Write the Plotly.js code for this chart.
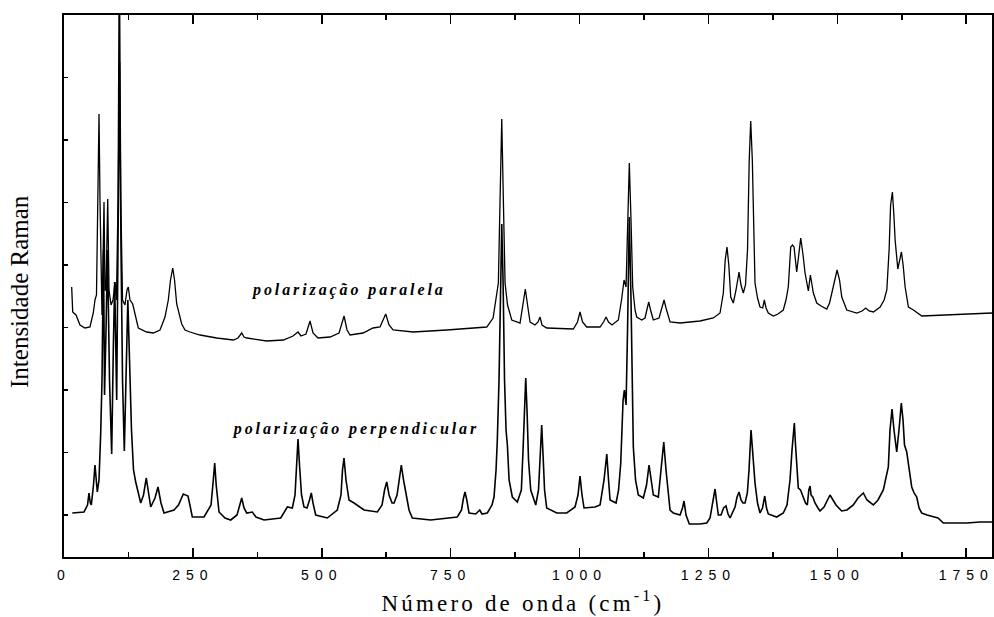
<!DOCTYPE html>
<html><head><meta charset="utf-8">
<script src="https://cdn.plot.ly/plotly-3.0.1.min.js"></script>
<style>
html,body{margin:0;padding:0;background:#fff;}
#chart{width:994px;height:617px;}
.xtick text{letter-spacing:6px;}
g.annotation[data-index="0"] text{letter-spacing:2.9px;}
g.annotation[data-index="1"] text{letter-spacing:2.9px;}
g.annotation[data-index="2"] text{letter-spacing:3.2px;}
</style></head><body><div id="chart"></div>
<script>
// Parallel polarization spectrum (upper trace), wavenumber (cm-1) and intensity (arb. units)
const paralelaWn = [
14.9,16.9,23.3,31,40.7,50.4,56.8,60.1,63,66,
67.9,69.8,72.2,73.7,75.7,77.6,79.5,81.5,84.8,87.3,
91.2,95.1,98.9,101.8,104.8,107.3,110.2,113.5,118.3,122.2,
124.7,128,133.3,137.7,144.1,160.4,173.2,186.2,195.9,202.3,
206.6,210.9,214.4,218.6,222.1,228.3,234.7,244.4,263.8,296.2,
328.4,337.5,344.7,349.2,354.4,393.2,425.4,444.2,453.9,459.7,
469.4,477.2,483,492.7,516,533.5,543.2,549,554.8,580,
599.4,613,624,630.5,638.3,677.1,742.4,800.6,820,832.3,
838.1,842.5,845.8,849.1,852.2,855.5,860.3,868.5,884.6,890.4,
894.8,899.1,904,913.6,919.4,923.3,927.2,936.3,987.9,996,
1000.9,1005.8,1013.9,1039.7,1046.5,1051.4,1056.2,1063,1075.2,1081.4,
1086.3,1090.2,1093.6,1096.5,1099.8,1103.1,1107.6,1110.9,1120.6,1127,
1130.5,1134.2,1137.7,1143.1,1154.2,1160,1163.9,1167.7,1175.5,1194.9,
1233.7,1259.5,1272.5,1278.9,1282.5,1286,1289.5,1293.2,1298.2,1303.5,
1309.3,1313.1,1317.6,1321.9,1325.8,1329.1,1332,1335.1,1338.4,1340.3,
1345.2,1350,1355.3,1358.4,1361.7,1366.1,1375.8,1384.9,1395.2,1400.4,
1404.9,1407.6,1409.6,1413.1,1416,1421.2,1424.7,1429,1433.5,1437.4,
1443.8,1447.7,1453.5,1460.1,1468.4,1479.5,1484.9,1489.2,1494.6,1499.5,
1504.3,1508.6,1518.3,1537.7,1548,1555.2,1561.6,1570,1583,1590.7,
1596,1600.4,1603.3,1606.8,1609.7,1612.1,1617.3,1620.8,1624.3,1627.6,
1631.5,1637.9,1647.6,1663.8,1712.3,1776.9,1800];
const paralelaInt = [
270,245,242,232,229,230,244,257,262,357,
443,357,257,242,297,355,267,267,358,267,
252,257,275,257,357,617,357,257,252,267,
270,257,253,242,229,225,224,227,240,257,
277,289,277,253,245,233,227,225,222,219,
217,219,224,220,219,216,217,221,225,221,
223,236,224,219,220,224,241,227,222,224,
229,230,243,232,227,225,227,229,230,239,
257,274,357,438,357,274,252,237,234,252,
268,252,235,232,235,240,232,229,228,235,
245,235,230,230,235,240,235,232,237,257,
277,270,337,394,337,270,247,240,237,239,
247,255,247,237,239,249,257,249,235,234,
236,239,244,264,297,310,292,260,254,267,
285,272,264,272,307,397,436,397,307,274,
259,250,249,257,249,244,241,243,247,257,
270,297,310,312,310,285,302,319,302,284,
266,282,264,254,251,248,254,264,279,287,
277,260,247,244,246,249,246,245,250,257,
267,307,352,365,342,317,288,295,305,292,
270,250,247,241,242,244,244];

// Perpendicular polarization spectrum (lower trace)
const perpendicularWn = [
16.1,38.8,45.6,48.5,51,53,57.2,60.1,64.6,67.9,
71.2,73.7,76.6,78.6,81.5,84.4,88.3,92.5,95.6,98.3,
102.2,104.8,107.7,110.6,113.5,117,120.3,123.8,127.1,130.9,
134.8,139.1,148.8,154.2,159.6,163.9,168.2,176.5,182.3,188.1,
194,213.4,222.1,231.4,240.5,245.4,248.9,271.6,285.2,289.6,
292.3,295.2,300.7,312.3,323.4,335.6,341,344.7,349.2,354.4,
365.3,372.4,388,420.4,433.2,442.9,448.1,451.6,453.9,456.8,
460.7,465.5,471.3,476.2,479.7,483,488.2,510.7,530.1,537.3,
540.2,543.1,547,552.8,562.6,582,607.8,616.9,621.8,626,
630.5,636.3,640.2,646,650.8,654.3,658.6,662.9,669.2,675.6,
711.3,762.9,771,774.9,777.8,781.3,785.6,798.6,806.4,810.8,
821.1,830.2,834.1,838,840.5,843.8,846.7,849.1,851.6,854.5,
857.4,860,863.3,869.6,879.3,887.1,890.4,893.3,895.6,898.1,
901,905.3,915,920.4,924.3,926.6,929.2,932.1,936.3,955.8,
975.1,991.2,997,1000.9,1004.8,1008.7,1030,1039.8,1047.5,1052.8,
1056.2,1059.2,1070.8,1075.7,1079.9,1084.4,1086.9,1090.2,1093.1,1096.5,
1099.8,1104.3,1108.6,1114,1123.7,1129.9,1134.8,1138.6,1143.1,1152.8,
1158,1163.3,1167.7,1172.2,1175.5,1181.9,1194.9,1199.7,1202.6,1206.5,
1212.9,1233.7,1246.7,1253.1,1257.9,1262.8,1266.6,1269.2,1274.4,1279.3,
1284.1,1288,1291.9,1297.7,1301.6,1305.5,1309.3,1313.2,1317.1,1321,
1325.4,1328.7,1331,1332.6,1335.5,1340.3,1345.2,1350,1354.9,1359.2,
1362.6,1366.1,1382.4,1395.2,1402.4,1408.2,1412.1,1414.6,1416.6,1418.9,
1421.8,1424.3,1428.6,1434,1438.3,1441.8,1444.7,1447.1,1449,1452.3,
1456.7,1462.5,1466.4,1474.2,1481,1485.8,1491.6,1497.4,1508.4,1518.7,
1531,1540.1,1550.4,1557.5,1569.8,1578.9,1589.2,1594.4,1598.9,1602.2,
1606.1,1609.9,1615.2,1619.6,1624.1,1627.4,1630.3,1634.6,1639.1,1644.3,
1648.8,1654,1658.5,1663.7,1674,1686.2,1695.3,1705.6,1728.3,1751,
1776.8,1800];
const perpendicularInt = [
44,45,52,64,54,52,72,92,65,77,
124,177,307,162,227,307,177,103,207,275,
157,307,495,307,177,106,197,257,197,127,
87,75,54,62,79,62,50,59,70,54,
44,47,52,63,61,49,40,40,52,77,
94,72,45,39,37,42,52,59,49,44,
45,40,37,39,50,49,62,97,118,92,
62,50,49,57,64,54,42,39,47,62,
87,99,77,57,54,47,45,52,67,75,
62,54,54,62,82,92,77,64,47,39,
37,40,47,59,65,57,44,43,47,43,
44,52,60,87,117,177,277,333,277,177,
127,112,77,60,55,67,107,157,179,147,
97,67,52,67,107,132,102,67,49,44,
44,50,62,81,62,49,50,52,77,103,
77,57,54,67,94,157,167,152,227,340,
257,110,77,62,59,72,92,77,62,60,
87,115,87,64,47,44,42,49,56,42,
33,33,34,39,52,68,52,42,42,49,
51,43,39,45,50,60,65,57,54,54,
64,87,117,127,107,74,54,44,49,61,
49,43,40,44,52,77,107,129,134,112,
82,69,67,60,54,52,67,71,62,60,
54,49,46,50,57,62,57,52,46,47,
52,59,64,57,52,57,67,79,90,127,
148,127,105,127,154,137,112,105,87,70,
64,60,49,44,42,40,39,34,34,34,
35,35];

const xTickVals = [0,250,500,750,1000,1250,1500,1750];
const xTickText = ['0','250','500','750','1000','1250','1500','1750'];
const labelParalela = 'polarização paralela';
const labelPerpendicular = 'polarização perpendicular';
const xTitle = 'Número de onda (cm<sup>-1</sup>)';
const yTitle = 'Intensidade Raman';

const traces = [
  {x: paralelaWn, y: paralelaInt, type:'scatter', mode:'lines', name: labelParalela,
   line:{color:'#000', width:1.3}, hoverinfo:'skip'},
  {x: perpendicularWn, y: perpendicularInt, type:'scatter', mode:'lines', name: labelPerpendicular,
   line:{color:'#000', width:1.6}, hoverinfo:'skip'}
];

const layout = {
  width:994, height:617,
  margin:{l:64, r:2, t:15, b:60, pad:0},
  paper_bgcolor:'#fff', plot_bgcolor:'#fff',
  showlegend:false,
  xaxis:{
    range:[0,1800], tickmode:'array', tickvals:xTickVals, ticktext:xTickText,
    ticks:'inside', ticklen:9, tickwidth:1.5, tickcolor:'#000',
    minor:{dtick:125, tick0:0, ticks:'inside', ticklen:5, tickwidth:1.5, tickcolor:'#000', showgrid:false},
    showline:true, linewidth:2, linecolor:'#000', mirror:'ticks',
    showgrid:false, zeroline:false,
    tickfont:{family:'Liberation Sans, Arial, sans-serif', size:14, color:'#000'},
    ticklabelstandoff:4
  },
  yaxis:{
    range:[0,542], tick0:42, dtick:62.5, showticklabels:false,
    ticks:'inside', ticklen:4, tickwidth:1.2, tickcolor:'#000',
    showline:true, linewidth:2, linecolor:'#000', mirror:true,
    showgrid:false, zeroline:false
  },
  annotations:[
    {x:552, y:267, xref:'x', yref:'y', text:'<b><i>'+labelParalela+'</i></b>', showarrow:false,
     xanchor:'center', yanchor:'middle',
     font:{family:'Liberation Serif, Times New Roman, serif', size:16, color:'#000'}},
    {x:566, y:128, xref:'x', yref:'y', text:'<b><i>'+labelPerpendicular+'</i></b>', showarrow:false,
     xanchor:'center', yanchor:'middle',
     font:{family:'Liberation Serif, Times New Roman, serif', size:16, color:'#000'}},
    {x:0.4946, y:-0.0815, xref:'paper', yref:'paper', text:xTitle, showarrow:false,
     xanchor:'center', yanchor:'middle',
     font:{family:'Liberation Serif, Times New Roman, serif', size:23, color:'#000'}},
    {x:-0.0474, y:0.489, xref:'paper', yref:'paper', text:yTitle, showarrow:false, textangle:-90,
     xanchor:'center', yanchor:'middle',
     font:{family:'Liberation Serif, Times New Roman, serif', size:25, color:'#000'}}
  ]
};

Plotly.newPlot('chart', traces, layout, {displayModeBar:false, staticPlot:true});
</script></body></html>
